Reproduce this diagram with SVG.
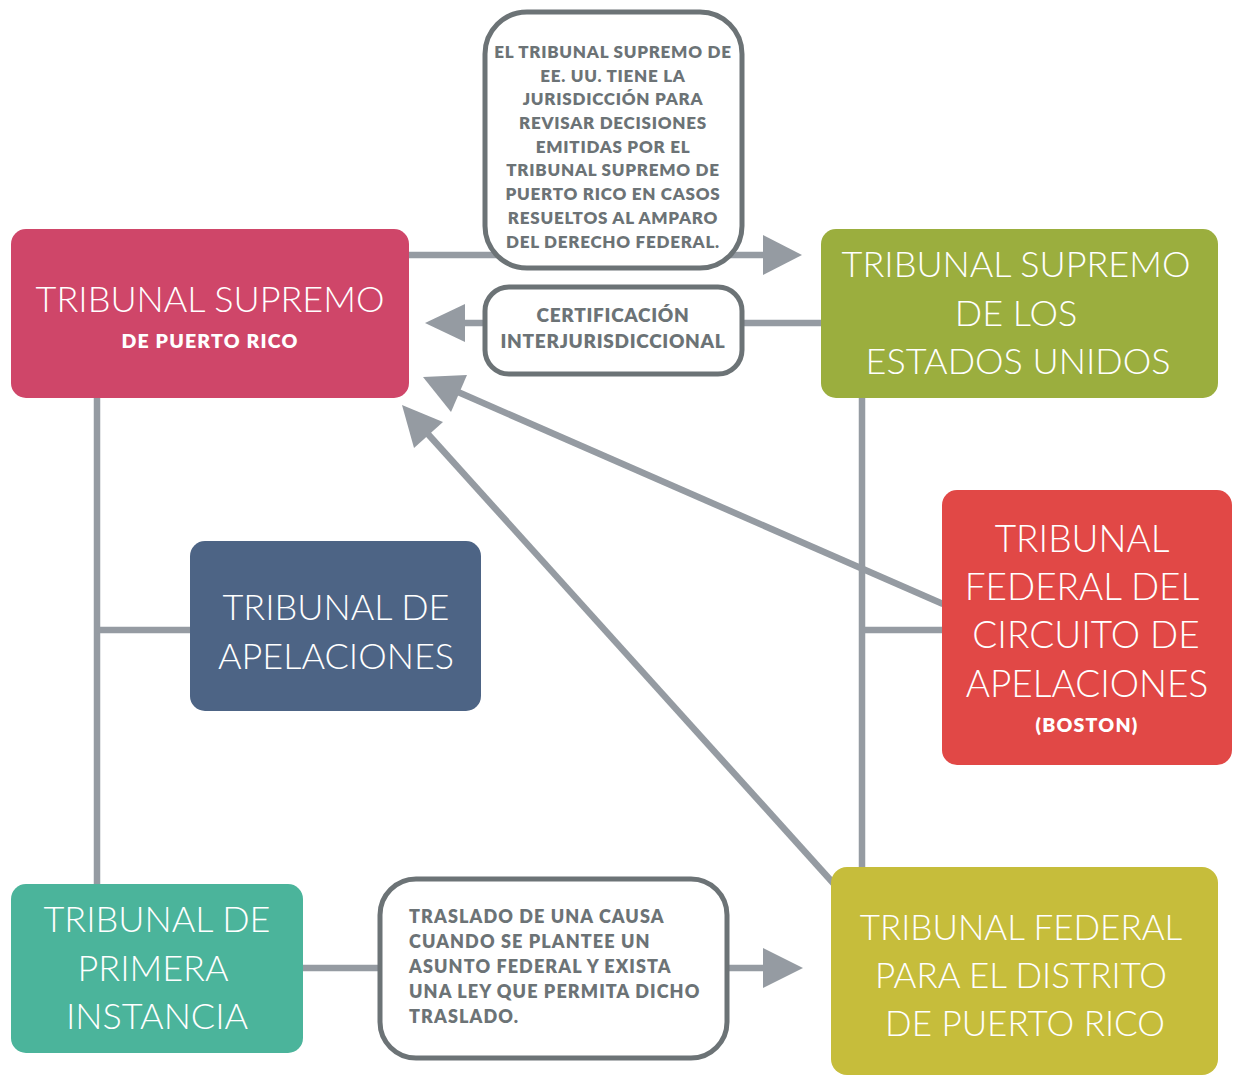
<svg xmlns="http://www.w3.org/2000/svg" width="1235" height="1076" viewBox="0 0 1235 1076">
<style>
.ln{stroke:#959ba2;stroke-width:6.5;fill:none}
.ah{fill:#959ba2}
.title{font-family:Lato,"Open Sans","Liberation Sans",sans-serif;font-weight:300;font-size:36px;fill:#fff;text-anchor:middle}
.sub{font-family:Lato,"Open Sans","Liberation Sans",sans-serif;font-weight:800;font-size:19.5px;letter-spacing:1.2px;fill:#fff;text-anchor:middle}
.call{fill:#fff;stroke:#6c7376;stroke-width:5}
.ct{font-family:Lato,"Open Sans","Liberation Sans",sans-serif;font-weight:800;font-size:17px;letter-spacing:0.75px;fill:#6c7376}
</style>
<rect width="1235" height="1076" fill="#fff"/>
<g id="connectors">
<line class="ln" x1="409" y1="255" x2="765" y2="255"/>
<polygon class="ah" points="763,235 802,255 763,275"/>
<line class="ln" x1="822" y1="323" x2="463" y2="323"/>
<polygon class="ah" points="465,304 425,323 465,342"/>
<line class="ln" x1="97" y1="396" x2="97" y2="885"/>
<line class="ln" x1="97" y1="630" x2="192" y2="630"/>
<line class="ln" x1="862" y1="396" x2="862" y2="869"/>
<line class="ln" x1="862" y1="630" x2="943" y2="630"/>
<line class="ln" x1="943" y1="604" x2="458" y2="392"/>
<polygon class="ah" points="423,377 467,375 451,412"/>
<line class="ln" x1="834" y1="884" x2="427" y2="433"/>
<polygon class="ah" points="402,405 443,422 414,448"/>
<line class="ln" x1="301" y1="968" x2="380" y2="968"/>
<line class="ln" x1="726" y1="968" x2="765" y2="968"/>
<polygon class="ah" points="763,948 803,968 763,988"/>
</g>
<g id="note-revision">
<rect class="call" x="485" y="12" width="257" height="256" rx="42"/>
<text class="ct" text-anchor="middle"><tspan x="613" y="58">EL TRIBUNAL SUPREMO DE</tspan><tspan x="613" y="82">EE. UU. TIENE LA</tspan><tspan x="613" y="105">JURISDICCIÓN PARA</tspan><tspan x="613" y="129">REVISAR DECISIONES</tspan><tspan x="613" y="153">EMITIDAS POR EL</tspan><tspan x="613" y="176">TRIBUNAL SUPREMO DE</tspan><tspan x="613" y="200">PUERTO RICO EN CASOS</tspan><tspan x="613" y="224">RESUELTOS AL AMPARO</tspan><tspan x="613" y="248">DEL DERECHO FEDERAL.</tspan></text>
</g>
<g id="note-certificacion">
<rect class="call" x="485" y="287" width="257" height="87" rx="24"/>
<text class="ct" text-anchor="middle" style="font-size:19px;letter-spacing:0.7px"><tspan x="613" y="322">CERTIFICACIÓN</tspan><tspan x="613" y="348">INTERJURISDICCIONAL</tspan></text>
</g>
<g id="note-traslado">
<rect class="call" x="380" y="879" width="347" height="179" rx="36"/>
<text class="ct" style="font-size:18px;letter-spacing:1.1px"><tspan x="409" y="923">TRASLADO DE UNA CAUSA</tspan><tspan x="409" y="948">CUANDO SE PLANTEE UN</tspan><tspan x="409" y="973">ASUNTO FEDERAL Y EXISTA</tspan><tspan x="409" y="998">UNA LEY QUE PERMITA DICHO</tspan><tspan x="409" y="1023">TRASLADO.</tspan></text>
</g>
<g id="supremo-pr">
<rect x="11" y="229" width="398" height="169" rx="15" fill="#cf4669"/>
<text class="title" x="210" y="312">TRIBUNAL SUPREMO</text>
<text class="sub" x="210" y="348">DE PUERTO RICO</text>
</g>
<g id="supremo-eeuu">
<rect x="821" y="229" width="397" height="169" rx="15" fill="#9bae3e"/>
<text class="title"><tspan x="1016" y="277">TRIBUNAL SUPREMO</tspan><tspan x="1016" y="326">DE LOS</tspan><tspan x="1018" y="374">ESTADOS UNIDOS</tspan></text>
</g>
<g id="apelaciones">
<rect x="190" y="541" width="291" height="170" rx="15" fill="#4d6485"/>
<text class="title"><tspan x="336" y="620">TRIBUNAL DE</tspan><tspan x="336" y="669">APELACIONES</tspan></text>
</g>
<g id="circuito-federal">
<rect x="942" y="490" width="290" height="275" rx="15" fill="#e14846"/>
<text class="title" style="font-size:37px"><tspan x="1082" y="552">TRIBUNAL</tspan><tspan x="1082" y="600">FEDERAL DEL</tspan><tspan x="1086" y="648">CIRCUITO DE</tspan><tspan x="1087" y="697">APELACIONES</tspan></text>
<text class="sub" x="1087" y="732">(BOSTON)</text>
</g>
<g id="primera-instancia">
<rect x="11" y="884" width="292" height="169" rx="15" fill="#4bb49b"/>
<text class="title"><tspan x="157" y="932">TRIBUNAL DE</tspan><tspan x="153" y="981">PRIMERA</tspan><tspan x="157" y="1029">INSTANCIA</tspan></text>
</g>
<g id="distrito-federal">
<rect x="831" y="867" width="387" height="208" rx="16" fill="#c6bd3b"/>
<text class="title" style="font-size:35px"><tspan x="1021" y="940">TRIBUNAL FEDERAL</tspan><tspan x="1021" y="988">PARA EL DISTRITO</tspan><tspan x="1025" y="1036">DE PUERTO RICO</tspan></text>
</g>
</svg>
